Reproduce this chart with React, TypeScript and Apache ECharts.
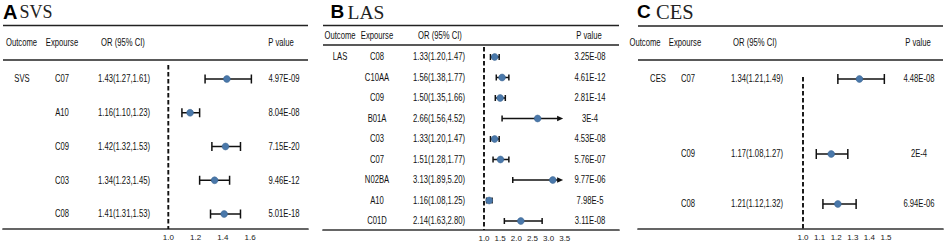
import React, { useEffect, useRef } from "react";
import * as echarts from "echarts";

// ---------- Panel A: SVS ----------
const aOutcome = "SVS";
const aExposures = ["C07", "A10", "C09", "C03", "C08"];
const aOR = [1.43, 1.16, 1.42, 1.34, 1.41];
const aLower = [1.27, 1.1, 1.32, 1.23, 1.31];
const aUpper = [1.61, 1.23, 1.53, 1.45, 1.53];
const aP = ["4.97E-09", "8.04E-08", "7.15E-20", "9.46E-12", "5.01E-18"];
const aTicks = [1.0, 1.2, 1.4, 1.6];

// ---------- Panel B: LAS ----------
const bOutcome = "LAS";
const bExposures = ["C08", "C10AA", "C09", "B01A", "C03", "C07", "N02BA", "A10", "C01D"];
const bOR = [1.33, 1.56, 1.5, 2.66, 1.33, 1.51, 3.13, 1.16, 2.14];
const bLower = [1.2, 1.38, 1.35, 1.56, 1.2, 1.28, 1.89, 1.08, 1.63];
const bUpper = [1.47, 1.77, 1.66, 4.52, 1.47, 1.77, 5.2, 1.25, 2.8];
const bP = ["3.25E-08", "4.61E-12", "2.81E-14", "3E-4", "4.53E-08", "5.76E-07", "9.77E-06", "7.98E-5", "3.11E-08"];
const bTicks = [1.0, 1.5, 2.0, 2.5, 3.0, 3.5];

// ---------- Panel C: CES ----------
const cOutcome = "CES";
const cExposures = ["C07", "C09", "C08"];
const cOR = [1.34, 1.17, 1.21];
const cLower = [1.21, 1.08, 1.12];
const cUpper = [1.49, 1.27, 1.32];
const cP = ["4.48E-08", "2E-4", "6.94E-06"];
const cTicks = [1.0, 1.1, 1.2, 1.3, 1.4, 1.5];

const headers = ["Outcome", "Expourse", "OR (95% CI)", "P value"];

// ---------- layout (pixels / row slots) ----------
const layouts = [
  {
    letter: "A", title: "SVS", letterX: 3, letterSize: 20, titleX: 19.5, titleSize: 18,
    left: 3, right: 308, topRule: 25.5, headerY: 43, headRule: 60, axisY: 229,
    x1: 168.3, ppu: 136.2, rowStart: 79, rowStep: 33.75, slots: [0, 1, 2, 3, 4],
    hdrX: [21.5, 62, 123, 281], colX: [22, 62, 124, 284], cap: 9, refStart: 65, clip: null as number | null,
  },
  {
    letter: "B", title: "LAS", letterX: 330.5, letterSize: 19, titleX: 347.5, titleSize: 19.5,
    left: 323, right: 619, topRule: 25.5, headerY: 36, headRule: 45, axisY: 230,
    x1: 484, ppu: 32.3, rowStart: 57, rowStep: 20.5, slots: [0, 1, 2, 3, 4, 5, 6, 7, 8],
    hdrX: [340, 377, 440, 589], colX: [340, 377, 439, 590], cap: 6, refStart: 47, clip: 3.45 as number | null,
  },
  {
    letter: "C", title: "CES", letterX: 637, letterSize: 19, titleX: 656, titleSize: 20.5,
    left: 638, right: 943, topRule: 26, headerY: 43, headRule: 60, axisY: 229,
    x1: 803, ppu: 166, rowStart: 79, rowStep: 25, slots: [0, 3, 5],
    hdrX: [645, 685, 755, 918], colX: [658, 688, 757, 919], cap: 10, refStart: 77, clip: null as number | null,
  },
];

const panelsData = [
  { outcome: aOutcome, exp: aExposures, or: aOR, lo: aLower, hi: aUpper, p: aP, ticks: aTicks },
  { outcome: bOutcome, exp: bExposures, or: bOR, lo: bLower, hi: bUpper, p: bP, ticks: bTicks },
  { outcome: cOutcome, exp: cExposures, or: cOR, lo: cLower, hi: cUpper, p: cP, ticks: cTicks },
];

const TEXT_FONT = '10.5px "Liberation Sans", Arial, sans-serif';
const TEXT_SX = 0.73;
const TEXT_COLOR = "#111";
const POINT_COLOR = "#4A78AA";

const fmtOR = (o: number, l: number, h: number) => `${o.toFixed(2)}(${l.toFixed(2)},${h.toFixed(2)})`;

function cellText(x: number, y: number, text: string) {
  return {
    type: "text",
    x, y, scaleX: TEXT_SX, scaleY: 1,
    style: { text, x: 0, y: 0, align: "center", verticalAlign: "middle", font: TEXT_FONT, fill: TEXT_COLOR },
  };
}

export default function App() {
  const ref = useRef<HTMLDivElement>(null);

  useEffect(() => {
    document.body.style.margin = "0";
    if (!ref.current) return;
    const chart = echarts.init(ref.current, null, { renderer: "svg" });

    const grids: any[] = [];
    const xAxes: any[] = [];
    const yAxes: any[] = [];
    const series: any[] = [];
    const graphics: any[] = [];

    layouts.forEach((L, pi) => {
      const D = panelsData[pi];
      grids.push({
        left: L.left, width: L.right - L.left, top: L.headRule, height: L.axisY - L.headRule,
        containLabel: false, outerBoundsMode: "none",
      });
      const yMin = -(L.rowStart - L.headRule) / L.rowStep;
      const yMax = yMin + (L.axisY - L.headRule) / L.rowStep;
      xAxes.push({
        type: "value", gridIndex: pi,
        min: 1 + (L.left - L.x1) / L.ppu, max: 1 + (L.right - L.x1) / L.ppu,
        splitLine: { show: false },
        axisTick: { show: false },
        axisLine: { show: true, onZero: false, lineStyle: { color: "#333", width: 1.7 } },
        axisLabel: {
          show: true, customValues: D.ticks, formatter: (v: number) => v.toFixed(1),
          fontSize: 8, fontFamily: '"Liberation Sans", Arial, sans-serif', color: "#222", margin: 4,
          showMinLabel: true, showMaxLabel: true,
        },
      });
      yAxes.push({ type: "value", gridIndex: pi, inverse: true, min: yMin, max: yMax, show: false });

      // dashed reference line at OR = 1
      series.push({
        type: "line", xAxisIndex: pi, yAxisIndex: pi, symbol: "none", silent: true,
        data: [[1, (L.refStart - L.rowStart) / L.rowStep], [1, yMax]],
        lineStyle: { color: "#111", width: 1.9, type: [4.5, 2.5] },
        z: 1,
      });

      const rows = D.exp.map((_, i) => [L.slots[i], D.or[i], D.lo[i], D.hi[i]]);
      series.push({
        type: "custom", xAxisIndex: pi, yAxisIndex: pi, data: rows, clip: false, z: 3,
        renderItem: (params: any, api: any) => {
          const i = params.dataIndex;
          const slot = api.value(0);
          const o = api.value(1), lo = api.value(2), hi = api.value(3);
          const clipped = L.clip != null && hi > L.clip;
          const hiDraw = clipped ? (L.clip as number) : hi;
          const [xo, y] = api.coord([o, slot]);
          const [xl] = api.coord([lo, slot]);
          const [xh] = api.coord([hiDraw, slot]);
          const ls = { stroke: "#111", lineWidth: 1.5 };
          const ch: any[] = [];
          ch.push({ type: "line", shape: { x1: xl, y1: y, x2: clipped ? xh - 3 : xh, y2: y }, style: ls });
          ch.push({ type: "line", shape: { x1: xl, y1: y - L.cap / 2, x2: xl, y2: y + L.cap / 2 }, style: ls });
          if (clipped) {
            ch.push({ type: "polygon", shape: { points: [[xh, y], [xh - 6, y - 2.8], [xh - 6, y + 2.8]] }, style: { fill: "#111" } });
          } else {
            ch.push({ type: "line", shape: { x1: xh, y1: y - L.cap / 2, x2: xh, y2: y + L.cap / 2 }, style: ls });
          }
          ch.push({ type: "circle", shape: { cx: xo, cy: y, r: 3.4 }, style: { fill: POINT_COLOR, stroke: "#3b6592", lineWidth: 0.6 } });
          if (i === 0) ch.push(cellText(L.colX[0], y, D.outcome));
          ch.push(cellText(L.colX[1], y, D.exp[i]));
          ch.push(cellText(L.colX[2], y, fmtOR(D.or[i], D.lo[i], D.hi[i])));
          ch.push(cellText(L.colX[3], y, D.p[i]));
          return { type: "group", children: ch };
        },
      });

      // titles
      graphics.push({
        type: "text", x: L.letterX, y: 11.5,
        style: { text: L.letter, font: `bold ${L.letterSize}px "Liberation Sans", Arial, sans-serif`, fill: "#000", verticalAlign: "middle" },
      });
      graphics.push({
        type: "text", x: L.titleX, y: 12,
        style: { text: L.title, font: `${L.titleSize}px "Liberation Serif", "Times New Roman", serif`, fill: "#222", verticalAlign: "middle" },
      });
      // rules
      graphics.push({ type: "line", shape: { x1: L.left, y1: L.topRule, x2: L.right, y2: L.topRule }, style: { stroke: "#222", lineWidth: 1.7 } });
      graphics.push({ type: "line", shape: { x1: L.left, y1: L.headRule, x2: L.right, y2: L.headRule }, style: { stroke: "#222", lineWidth: 1.7 } });
      // header texts
      headers.forEach((h, k) => graphics.push(cellText(L.hdrX[k], L.headerY, h)));
    });

    chart.setOption({
      animation: false,
      backgroundColor: "#ffffff",
      grid: grids,
      xAxis: xAxes,
      yAxis: yAxes,
      series,
      graphic: { elements: graphics },
    });

    return () => chart.dispose();
  }, []);

  return <div ref={ref} style={{ width: 945, height: 247 }} />;
}
